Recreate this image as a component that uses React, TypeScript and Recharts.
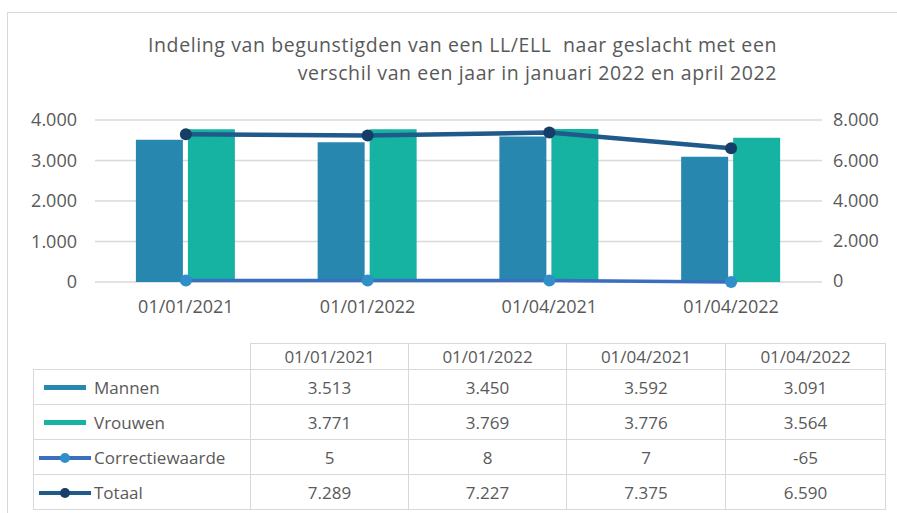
import React from 'react'
import { Bar, CartesianGrid, ComposedChart, Line, XAxis, YAxis } from 'recharts'

const dates = ['01/01/2021', '01/01/2022', '01/04/2021', '01/04/2022']
const mannen = [3513, 3450, 3592, 3091]
const vrouwen = [3771, 3769, 3776, 3564]
const correctie = [5, 8, 7, -65]
const totaal = [7289, 7227, 7375, 6590]
const leftTicks = [0, 1000, 2000, 3000, 4000]
const rightTicks = [0, 2000, 4000, 6000, 8000]

const colors = {
  mannen: '#2787ae',
  vrouwen: '#16b3a3',
  correctie: '#3a6fc0',
  correctieDot: '#2f8fc8',
  totaal: '#1f5a8a',
  totaalDot: '#163d68',
}

const data = dates.map((d, i) => ({
  date: d,
  Mannen: mannen[i],
  Vrouwen: vrouwen[i],
  Correctiewaarde: correctie[i],
  Totaal: totaal[i],
}))

const fmt = (v: number) => v.toLocaleString('de-DE')

const font = '"Open Sans", sans-serif'
const ink = '#595959'
const line = '#d9d9d9'

const rows = [
  { name: 'Mannen', values: mannen, kind: 'bar', color: colors.mannen },
  { name: 'Vrouwen', values: vrouwen, kind: 'bar', color: colors.vrouwen },
  { name: 'Correctiewaarde', values: correctie, kind: 'line', color: colors.correctie, dot: colors.correctieDot },
  { name: 'Totaal', values: totaal, kind: 'line', color: colors.totaal, dot: colors.totaalDot },
]

const colX = [250, 408, 566, 725, 885]
const headTop = 343
const rowTop = 369
const rowH = 35

function Key({ kind, color, dot }: { kind: string; color: string; dot?: string }) {
  if (kind === 'bar') {
    return (
      <svg width={60} height={12} style={{ position: 'absolute', left: 5, top: rowH / 2 - 6 }}>
        <rect x={5} y={3} width={42} height={5} fill={color} />
      </svg>
    )
  }
  return (
    <svg width={60} height={14} style={{ position: 'absolute', left: 4, top: rowH / 2 - 7 }}>
      <line x1={1} x2={53} y1={7} y2={7} stroke={color} strokeWidth={4} />
      <circle cx={27} cy={7} r={5} fill={dot} />
    </svg>
  )
}

export default function App() {
  const cell: React.CSSProperties = {
    position: 'absolute',
    boxSizing: 'border-box',
    border: `1px solid ${line}`,
    fontFamily: font,
    fontSize: 17,
    color: ink,
    display: 'flex',
    alignItems: 'center',
    justifyContent: 'center',
  }
  return (
    <div style={{ position: 'absolute', left: 0, top: 0, width: 897, height: 513, background: '#fff', overflow: 'hidden' }}>
      <div style={{ position: 'absolute', left: 7, top: 12, width: 900, height: 510, border: `1px solid ${line}`, boxSizing: 'border-box' }} />
      <div
        style={{
          position: 'absolute',
          right: 897 - 777,
          top: 31,
          textAlign: 'right',
          fontFamily: font,
          fontSize: 19.5,
          letterSpacing: 0.6,
          lineHeight: '28px',
          color: ink,
          whiteSpace: 'pre',
        }}
      >
        {'Indeling van begunstigden van een LL/ELL  naar geslacht met een\nverschil van een jaar in januari 2022 en april 2022'}
      </div>
      <div style={{ position: 'absolute', left: 0, top: 0 }}>
        <ComposedChart
          width={897}
          height={335}
          data={data}
          margin={{ top: 120, right: 0, bottom: 0, left: 0 }}
          barCategoryGap="22.5%"
          barGap={5}
        >
          <CartesianGrid vertical={false} stroke={line} strokeWidth={1.5} yAxisId="left" />
          <XAxis
            dataKey="date"
            axisLine={false}
            tickLine={false}
            height={53}
            tickMargin={12}
            tick={{ fontSize: 18, fill: ink, fontFamily: font }}
          />
          <YAxis
            yAxisId="left"
            domain={[0, 4000]}
            ticks={leftTicks}
            tickFormatter={fmt}
            axisLine={false}
            tickLine={false}
            width={95}
            tickMargin={12}
            tick={{ fontSize: 18, fill: ink, fontFamily: font }}
          />
          <YAxis
            yAxisId="right"
            orientation="right"
            domain={[0, 8000]}
            ticks={rightTicks}
            tickFormatter={fmt}
            axisLine={false}
            tickLine={false}
            width={75}
            tickMargin={5}
            tick={{ fontSize: 18, fill: ink, fontFamily: font, textAnchor: 'start' }}
          />
          <Bar yAxisId="left" dataKey="Mannen" fill={colors.mannen} isAnimationActive={false} />
          <Bar yAxisId="left" dataKey="Vrouwen" fill={colors.vrouwen} isAnimationActive={false} />
          <Line
            yAxisId="right"
            dataKey="Correctiewaarde"
            stroke={colors.correctie}
            strokeWidth={3.5}
            dot={{ r: 6, fill: colors.correctieDot, stroke: colors.correctieDot, strokeWidth: 0 }}
            isAnimationActive={false}
          />
          <Line
            yAxisId="right"
            dataKey="Totaal"
            stroke={colors.totaal}
            strokeWidth={4.5}
            dot={{ r: 6, fill: colors.totaalDot, stroke: colors.totaalDot, strokeWidth: 0 }}
            isAnimationActive={false}
          />
        </ComposedChart>
      </div>
      {dates.map((d, i) => (
        <div key={d} style={{ ...cell, left: colX[i], top: headTop, width: colX[i + 1] - colX[i] + 1, height: rowTop - headTop + 1 }}>
          {d}
        </div>
      ))}
      {rows.map((r, ri) => (
        <React.Fragment key={r.name}>
          <div
            style={{
              ...cell,
              left: 33,
              top: rowTop + ri * rowH,
              width: colX[0] - 33 + 1,
              height: rowH + 1,
              justifyContent: 'flex-start',
              paddingLeft: 60,
            }}
          >
            <Key kind={r.kind} color={r.color} dot={r.dot} />
            {r.name}
          </div>
          {r.values.map((v, ci) => (
            <div
              key={ci}
              style={{ ...cell, left: colX[ci], top: rowTop + ri * rowH, width: colX[ci + 1] - colX[ci] + 1, height: rowH + 1 }}
            >
              {fmt(v)}
            </div>
          ))}
        </React.Fragment>
      ))}
    </div>
  )
}
